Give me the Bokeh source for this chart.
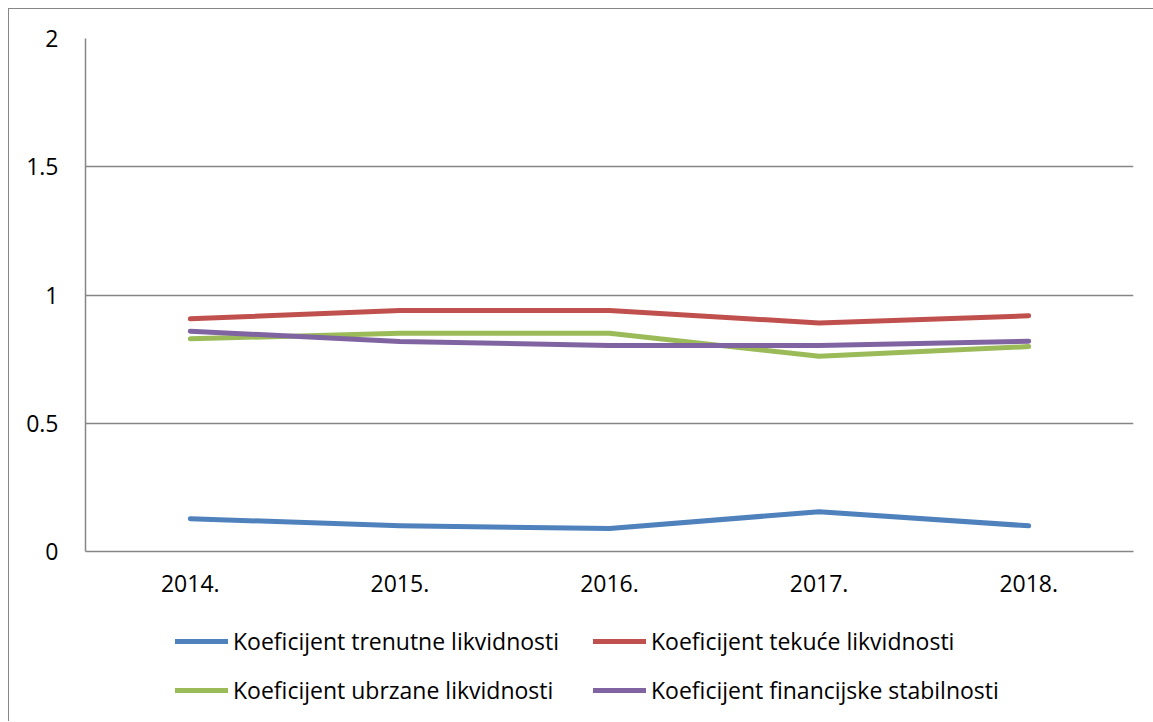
from bokeh.plotting import figure
from bokeh.layouts import column
from bokeh.models import (Legend, LegendItem, FactorRange, Range1d,
                          FixedTicker, NumeralTickFormatter)
from bokeh.embed import file_html
from bokeh.resources import INLINE

years = ["2014.", "2015.", "2016.", "2017.", "2018."]
trenutne = [0.128, 0.100, 0.090, 0.155, 0.100]
tekuce = [0.907, 0.940, 0.940, 0.891, 0.919]
ubrzane = [0.829, 0.851, 0.851, 0.761, 0.799]
financijske = [0.859, 0.819, 0.803, 0.803, 0.820]
names = ["Koeficijent trenutne likvidnosti", "Koeficijent tekuće likvidnosti",
         "Koeficijent ubrzane likvidnosti", "Koeficijent financijske stabilnosti"]
series = [trenutne, tekuce, ubrzane, financijske]
colors = ["#4F81BD", "#C0504D", "#9BBB59", "#8064A2"]
y_ticks = [0, 0.5, 1, 1.5, 2]

FONT = "Open Sans"
FSIZE = "23px"
GRAY = "#868686"
W = 1144

p = figure(width=W, height=610, x_range=FactorRange(*years), y_range=Range1d(0, 2),
           output_backend="svg", toolbar_location=None,
           min_border_left=76, min_border_right=20, min_border_top=29, min_border_bottom=68)
p.outline_line_color = None
p.background_fill_color = "white"
p.border_fill_color = "white"

for vals, c in zip(series, colors):
    p.line(years, vals, line_color=c, line_width=5, line_cap="round", line_join="round")

# axes
p.yaxis.ticker = FixedTicker(ticks=y_ticks)
p.yaxis.formatter = NumeralTickFormatter(format="0.[0]")
for ax in (p.xaxis[0], p.yaxis[0]):
    ax.axis_line_color = GRAY
    ax.axis_line_width = 1.5
    ax.major_tick_line_color = None
    ax.minor_tick_line_color = None
    ax.major_label_text_font = FONT
    ax.major_label_text_font_size = FSIZE
    ax.major_label_text_color = "black"
p.yaxis.major_label_standoff = 21
p.xaxis.major_label_standoff = 17

p.xgrid.grid_line_color = None
p.ygrid.ticker = FixedTicker(ticks=y_ticks)
p.ygrid.grid_line_color = GRAY
p.ygrid.grid_line_width = 1.5

# legend strip below the chart
lp = figure(width=W, height=102, output_backend="svg", toolbar_location=None,
            x_range=FactorRange(*years), y_range=Range1d(0, 2),
            x_axis_location=None, y_axis_location=None,
            min_border_left=76, min_border_right=20,
            min_border_top=0, min_border_bottom=0)
lp.outline_line_color = None
lp.xgrid.grid_line_color = None
lp.ygrid.grid_line_color = None
lp.border_fill_color = "white"

# legend sample renderers (series drawn with zero alpha in the legend strip)
samples = []
for vals, c in zip(series, colors):
    r = lp.line(years, vals, line_color=c, line_width=5, line_cap="round", line_alpha=1.0)
    r.visible = True
    samples.append(r)
# hide the actual data lines in the strip but keep the legend samples drawn
for r in samples:
    r.glyph.line_alpha = 1.0
lp.y_range = Range1d(5, 6)  # series lie outside the strip's visible range


def make_legend(idx, loc):
    items = [LegendItem(label=names[i], renderers=[samples[i]]) for i in idx]
    return Legend(items=items, location=loc, orientation="vertical",
                  glyph_width=53, glyph_height=20, label_height=20, label_standoff=5,
                  spacing=17, padding=0, margin=0, border_line_color=None,
                  background_fill_alpha=0, label_text_font=FONT,
                  label_text_font_size=FSIZE, label_text_color="black")


lp.add_layout(make_legend([0, 2], (90, 15)), "center")
lp.add_layout(make_legend([1, 3], (508, 15)), "center")

layout = column(p, lp, spacing=0)
layout.styles = {"margin-left": "8px", "margin-top": "8px",
                 "border-left": f"1px solid {GRAY}", "border-top": f"1px solid {GRAY}"}

open("out.html", "w").write(file_html(layout, INLINE))
